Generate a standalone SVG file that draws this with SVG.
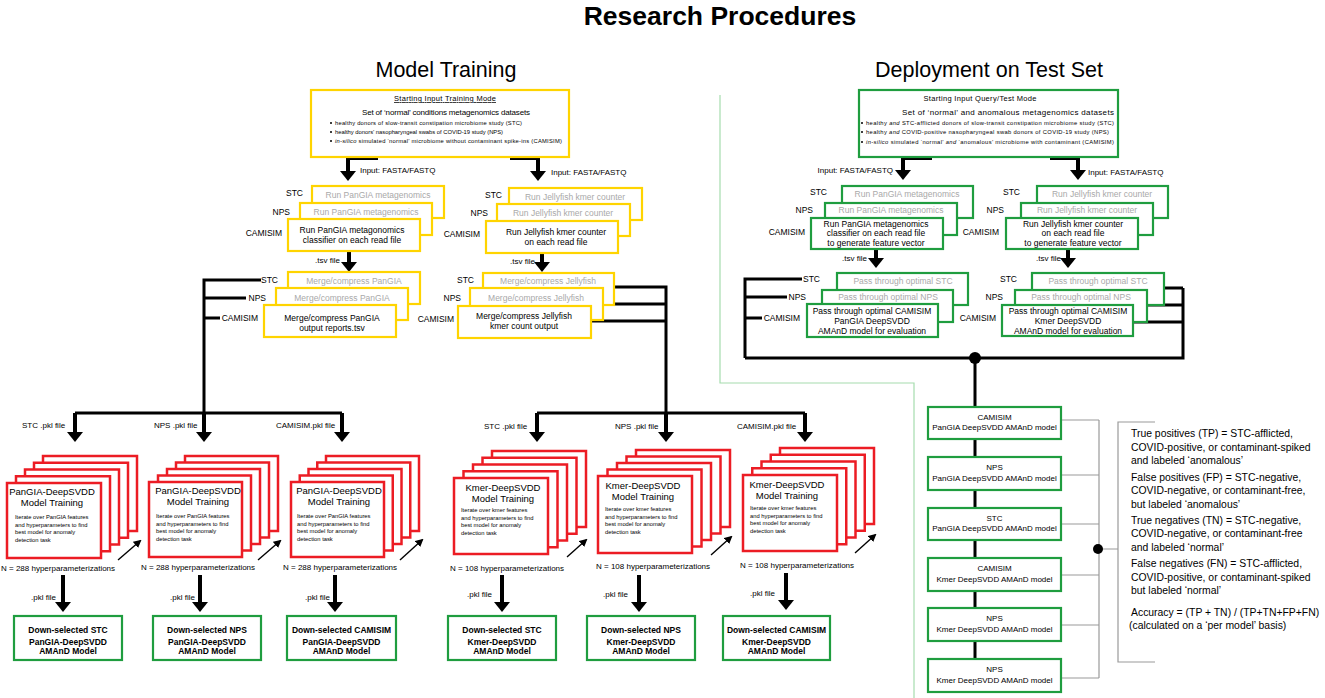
<svg xmlns="http://www.w3.org/2000/svg" width="1325" height="698" viewBox="0 0 1325 698">
<style>
text{font-family:"Liberation Sans",Arial,sans-serif;fill:#000}
.f85{font-size:8.5px}
.f8{font-size:8px}
.f6{font-size:5.8px}
.f95{font-size:9.5px}
.gt{fill:#a9a9a9}
.m{text-anchor:middle}
.e{text-anchor:end}
.b{font-weight:bold}
.by{fill:#fff;stroke:#FFD400;stroke-width:2.2}
.bg{fill:#fff;stroke:#1F9D3F;stroke-width:2.2}
.br{fill:#fff;stroke:#EC1C24;stroke-width:2.5}
.c{fill:none;stroke:#000;stroke-width:3;stroke-linejoin:miter}
.ca{fill:none;stroke:#000;stroke-width:4;stroke-linejoin:miter;marker-end:url(#ah)}
.th{fill:none;stroke:#000;stroke-width:1.4;marker-end:url(#sa)}
.gl{fill:none;stroke:#9a9a9a;stroke-width:1.2}
.rt{font-size:10.4px;fill:#222}
</style>
<defs>
<marker id="ah" markerUnits="userSpaceOnUse" markerWidth="10" markerHeight="16" viewBox="0 0 10 16" refX="6" refY="8" orient="auto"><path d="M0,0 L10,8 L0,16 z" fill="#000"/></marker>
<marker id="sa" markerUnits="userSpaceOnUse" markerWidth="8" markerHeight="8" viewBox="0 0 8 8" refX="6" refY="4" orient="auto"><path d="M0,0 L8,4 L0,8 z" fill="#000"/></marker>
</defs>
<rect width="1325" height="698" fill="#fff"/>

<g id="titles">
<text x="720" y="25" class="m b" font-size="26.5">Research Procedures</text>
<text x="446" y="77" class="m" font-size="21.5">Model Training</text>
<text x="989" y="77" class="m" font-size="21.5">Deployment on Test Set</text>
</g>

<path id="divider" d="M720,95 V383 H914 V698" fill="none" stroke="#a6dcae" stroke-width="1.2"/>

<g id="connectors">
<path class="ca" d="M378,158 H348 V177"/>
<path class="ca" d="M510,158 H538 V177"/>
<path class="ca" d="M932,158 H903 V176"/>
<path class="ca" d="M1050,158 H1078 V176"/>
<path class="ca" d="M349,251 V268"/>
<path class="ca" d="M542,253 V268"/>
<path class="ca" d="M876,249 V264"/>
<path class="ca" d="M1068,249 V264"/>
<path class="c" d="M261,280 H204 V413 M246,298 H204 M220,318 H204 M75,413 H342"/>
<path class="ca" d="M75,413 V438"/>
<path class="ca" d="M204,413 V438"/>
<path class="ca" d="M342,413 V438"/>
<path class="c" d="M614,287 H666 V413 M603,304 H666 M591,321 H666 M537,413 H805"/>
<path class="ca" d="M537,413 V438"/>
<path class="ca" d="M666,413 V438"/>
<path class="ca" d="M805,413 V438"/>
<path class="ca" d="M63,575 V608"/>
<path class="ca" d="M200,575 V608"/>
<path class="ca" d="M335,575 V608"/>
<path class="ca" d="M502,575 V608"/>
<path class="ca" d="M639,575 V608"/>
<path class="ca" d="M786,573 V606"/>
<path class="th" d="M118,560 L140,541"/>
<path class="th" d="M258,560 L280,541"/>
<path class="th" d="M400,560 L422,540"/>
<path class="th" d="M567,557 L586,540"/>
<path class="th" d="M711,555 L731,537"/>
<path class="th" d="M855,553 L875,535"/>
<path class="c" d="M802,279 H745 V358 M787,297 H745 M762,318 H745 M745,358 H1183 V288 M1164,288 H1183 M1147,305 H1183 M1133,322 H1183"/>
<path class="c" d="M975,358 V660"/>
<circle cx="975" cy="358" r="6" fill="#000"/>
<path class="gl" d="M1061,420 H1099 M1061,475 H1099 M1061,524 H1099 M1061,575 H1099 M1061,625 H1099 M1061,678 H1099 M1099,420 V678 M1098,549 H1118 M1155,422 H1118 V662 H1155"/>
<circle cx="1098" cy="549" r="5" fill="#000"/>
</g>

<g id="connector-labels" class="f8">
<text x="360" y="173">Input: FASTA/FASTQ</text>
<text x="551" y="175">Input: FASTA/FASTQ</text>
<text x="893" y="173" class="e">Input: FASTA/FASTQ</text>
<text x="1088" y="175">Input: FASTA/FASTQ</text>
<text x="340" y="263" class="e">.tsv file</text>
<text x="535" y="264" class="e">.tsv file</text>
<text x="867" y="261" class="e">.tsv file</text>
<text x="1061" y="261" class="e">.tsv file</text>
<text x="22" y="428">STC .pkl file</text>
<text x="154" y="428">NPS .pkl file</text>
<text x="276" y="428">CAMISIM.pkl file</text>
<text x="484" y="429">STC .pkl file</text>
<text x="615" y="429">NPS .pkl file</text>
<text x="737" y="429">CAMISIM.pkl file</text>
<text x="1" y="571">N = 288 hyperparameterizations</text>
<text x="141" y="570">N = 288 hyperparameterizations</text>
<text x="283" y="570">N = 288 hyperparameterizations</text>
<text x="450" y="571">N = 108 hyperparameterizations</text>
<text x="596" y="569">N = 108 hyperparameterizations</text>
<text x="740" y="568">N = 108 hyperparameterizations</text>
<text x="31" y="600">.pkl file</text>
<text x="170" y="600">.pkl file</text>
<text x="305" y="600">.pkl file</text>
<text x="467" y="597">.pkl file</text>
<text x="603" y="597">.pkl file</text>
<text x="750" y="596">.pkl file</text>
</g>

<g id="stream-labels" class="f85 e">
<text x="303" y="196">STC</text><text x="290" y="215">NPS</text><text x="282" y="236">CAMISIM</text>
<text x="278" y="283">STC</text><text x="266" y="301">NPS</text><text x="258" y="321">CAMISIM</text>
<text x="502" y="198">STC</text><text x="488" y="216">NPS</text><text x="480" y="237">CAMISIM</text>
<text x="474" y="283">STC</text><text x="461" y="301">NPS</text><text x="454" y="322">CAMISIM</text>
<text x="827" y="195">STC</text><text x="813" y="213">NPS</text><text x="805" y="235">CAMISIM</text>
<text x="820" y="282">STC</text><text x="806" y="300">NPS</text><text x="800" y="321">CAMISIM</text>
<text x="1020" y="195">STC</text><text x="1004" y="213">NPS</text><text x="999" y="235">CAMISIM</text>
<text x="1017" y="282">STC</text><text x="1003" y="300">NPS</text><text x="996" y="321">CAMISIM</text>
</g>

<g id="train-input">
<rect class="by" x="311" y="90" width="258" height="67"/>
<text x="445" y="101" class="m" font-size="7.5" text-decoration="underline" textLength="102">Starting Input Training Mode</text>
<text x="446" y="115" class="m f8" textLength="168">Set of ‘normal’ conditions metagenomics datasets</text>
<circle cx="331" cy="123" r="1"/><circle cx="331" cy="132" r="1"/><circle cx="331" cy="141" r="1"/>
<text x="335" y="125" class="f6" textLength="187">healthy donors of slow-transit constipation microbiome study (STC)</text>
<text x="335" y="134" class="f6" textLength="168">healthy donors’ nasopharyngeal swabs of COVID-19 study (NPS)</text>
<text x="335" y="143" class="f6" textLength="227"><tspan font-style="italic">in-silico</tspan> simulated ‘normal’ microbiome without contaminant spike-ins (CAMISIM)</text>
</g>

<g id="test-input">
<rect class="bg" x="859" y="90" width="259" height="67"/>
<text x="980" y="101" class="m" font-size="7.5" textLength="113">Starting Input Query/Test Mode</text>
<text x="1008" y="115" class="m f8" textLength="212">Set of ‘normal’ and anomalous metagenomics datasets</text>
<circle cx="862" cy="123" r="1"/><circle cx="862" cy="132" r="1"/><circle cx="862" cy="142" r="1"/>
<text x="866" y="125" class="f6" font-size="5.4" textLength="248">healthy <tspan font-style="italic">and</tspan> STC-afflicted donors of slow-transit constipation microbiome study (STC)</text>
<text x="866" y="134" class="f6" font-size="5.4" textLength="243">healthy <tspan font-style="italic">and</tspan> COVID-positive nasopharyngeal swab donors of COVID-19 study (NPS)</text>
<text x="866" y="144" class="f6" font-size="5.4" textLength="248"><tspan font-style="italic">in-silico</tspan> simulated ‘normal’ <tspan font-style="italic">and</tspan> ‘anomalous’ microbiome with contaminant (CAMISIM)</text>
</g>

<g id="train-pangia-run" class="f85">
<rect class="by" x="312" y="186" width="132" height="32"/>
<text x="378" y="198" class="m gt">Run PanGIA metagenomics</text>
<rect class="by" x="300" y="203" width="132" height="32"/>
<text x="366" y="215" class="m gt">Run PanGIA metagenomics</text>
<rect class="by" x="288" y="219" width="132" height="32"/>
<text x="352" y="233" class="m">Run PanGIA metagonomics</text>
<text x="352" y="243" class="m">classifier on each read file</text>
</g>

<g id="train-jelly-run" class="f85">
<rect class="by" x="509" y="188" width="133" height="32"/>
<text x="575" y="200" class="m gt">Run Jellyfish kmer counter</text>
<rect class="by" x="497" y="204" width="133" height="32"/>
<text x="563" y="216" class="m gt">Run Jellyfish kmer counter</text>
<rect class="by" x="486" y="221" width="132" height="32"/>
<text x="556" y="235" class="m">Run Jellyfish kmer counter</text>
<text x="556" y="245" class="m">on each read file</text>
</g>

<g id="train-pangia-merge" class="f85">
<rect class="by" x="288" y="272" width="132" height="32"/>
<text x="354" y="284" class="m gt">Merge/compress PanGIA</text>
<rect class="by" x="276" y="288" width="132" height="32"/>
<text x="342" y="301" class="m gt">Merge/compress PanGIA</text>
<rect class="by" x="264" y="305" width="132" height="32"/>
<text x="332" y="321" class="m">Merge/compress PanGIA</text>
<text x="332" y="331" class="m">output reports.tsv</text>
</g>

<g id="train-jelly-merge" class="f85">
<rect class="by" x="483" y="273" width="131" height="32"/>
<text x="548" y="284" class="m gt">Merge/compress Jellyfish</text>
<rect class="by" x="470" y="288" width="133" height="32"/>
<text x="536" y="301" class="m gt">Merge/compress Jellyfish</text>
<rect class="by" x="458" y="306" width="133" height="32"/>
<text x="524" y="319" class="m">Merge/compress Jellyfish</text>
<text x="524" y="329" class="m">kmer count output</text>
</g>

<g id="test-pangia-run" class="f85">
<rect class="bg" x="842" y="186" width="131" height="32"/>
<text x="907" y="197" class="m gt">Run PanGIA metagenomics</text>
<rect class="bg" x="825" y="203" width="132" height="32"/>
<text x="891" y="213" class="m gt">Run PanGIA metagenomics</text>
<rect class="bg" x="811" y="218" width="132" height="31"/>
<text x="876" y="227" class="m">Run PanGIA metagenomics</text>
<text x="876" y="236" class="m">classifier on each read file</text>
<text x="876" y="246" class="m">to generate feature vector</text>
</g>

<g id="test-jelly-run" class="f85">
<rect class="bg" x="1037" y="186" width="131" height="32"/>
<text x="1102" y="197" class="m gt">Run Jellyfish kmer counter</text>
<rect class="bg" x="1021" y="203" width="132" height="32"/>
<text x="1087" y="213" class="m gt">Run Jellyfish kmer counter</text>
<rect class="bg" x="1006" y="218" width="132" height="31"/>
<text x="1073" y="227" class="m">Run Jellyfish kmer counter</text>
<text x="1073" y="236" class="m">on each read file</text>
<text x="1073" y="246" class="m">to generate feature vector</text>
</g>

<g id="test-pangia-pass" class="f85">
<rect class="bg" x="837" y="273" width="131" height="32"/>
<text x="903" y="284" class="m gt">Pass through optimal STC</text>
<rect class="bg" x="822" y="290" width="131" height="32"/>
<text x="888" y="300" class="m gt">Pass through optimal NPS</text>
<rect class="bg" x="807" y="304" width="131" height="33"/>
<text x="872" y="314" class="m">Pass through optimal CAMISIM</text>
<text x="872" y="324" class="m">PanGIA DeepSVDD</text>
<text x="872" y="334" class="m">AMAnD model for evaluation</text>
</g>

<g id="test-jelly-pass" class="f85">
<rect class="bg" x="1032" y="273" width="132" height="32"/>
<text x="1098" y="284" class="m gt">Pass through optimal STC</text>
<rect class="bg" x="1015" y="290" width="132" height="32"/>
<text x="1081" y="300" class="m gt">Pass through optimal NPS</text>
<rect class="bg" x="1002" y="305" width="131" height="31"/>
<text x="1068" y="314" class="m">Pass through optimal CAMISIM</text>
<text x="1068" y="324" class="m">Kmer DeepSVDD</text>
<text x="1068" y="334" class="m">AMAnD model for evaluation</text>
</g>

<g id="train-pangia-stc">
<rect class="br" x="43" y="456" width="94" height="75"/>
<rect class="br" x="34" y="462.75" width="94" height="75"/>
<rect class="br" x="25" y="469.5" width="94" height="75"/>
<rect class="br" x="16" y="476.25" width="94" height="75"/>
<rect class="br" x="7" y="483" width="94" height="75"/>
<text x="52" y="495" class="m f95">PanGIA-DeepSVDD</text>
<text x="52" y="505.5" class="m f95">Model Training</text>
<text x="15" y="519" class="f6">Iterate over PanGIA features</text>
<text x="15" y="526.5" class="f6">and hyperparameters to find</text>
<text x="15" y="534" class="f6">best model for anomaly</text>
<text x="15" y="541.5" class="f6">detection task</text>
</g>

<g id="train-pangia-nps">
<rect class="br" x="185" y="456" width="93" height="75"/>
<rect class="br" x="176" y="462.5" width="93" height="75"/>
<rect class="br" x="167" y="469" width="93" height="75"/>
<rect class="br" x="158" y="475.5" width="93" height="75"/>
<rect class="br" x="149" y="482" width="93" height="75"/>
<text x="198" y="494" class="m f95">PanGIA-DeepSVDD</text>
<text x="198" y="504.5" class="m f95">Model Training</text>
<text x="156" y="518" class="f6">Iterate over PanGIA features</text>
<text x="156" y="525.5" class="f6">and hyperparameters to find</text>
<text x="156" y="533" class="f6">best model for anomaly</text>
<text x="156" y="540.5" class="f6">detection task</text>
</g>

<g id="train-pangia-camisim">
<rect class="br" x="326" y="456" width="93" height="75"/>
<rect class="br" x="317.25" y="462.5" width="93" height="75"/>
<rect class="br" x="308.5" y="469" width="93" height="75"/>
<rect class="br" x="299.75" y="475.5" width="93" height="75"/>
<rect class="br" x="291" y="482" width="93" height="75"/>
<text x="339" y="494" class="m f95">PanGIA-DeepSVDD</text>
<text x="339" y="504.5" class="m f95">Model Training</text>
<text x="297" y="518" class="f6">Iterate over PanGIA features</text>
<text x="297" y="525.5" class="f6">and hyperparameters to find</text>
<text x="297" y="533" class="f6">best model for anomaly</text>
<text x="297" y="540.5" class="f6">detection task</text>
</g>

<g id="train-kmer-stc">
<rect class="br" x="492" y="451" width="94" height="76"/>
<rect class="br" x="482.5" y="457.75" width="94" height="76"/>
<rect class="br" x="473" y="464.5" width="94" height="76"/>
<rect class="br" x="463.5" y="471.25" width="94" height="76"/>
<rect class="br" x="454" y="478" width="94" height="76"/>
<text x="503" y="491" class="m f95">Kmer-DeepSVDD</text>
<text x="503" y="501.5" class="m f95">Model Training</text>
<text x="461" y="512" class="f6">Iterate over kmer features</text>
<text x="461" y="519.5" class="f6">and hyperparameters to find</text>
<text x="461" y="527" class="f6">best model for anomaly</text>
<text x="461" y="534.5" class="f6">detection task</text>
</g>

<g id="train-kmer-nps">
<rect class="br" x="636" y="450" width="94" height="77"/>
<rect class="br" x="626.5" y="456.5" width="94" height="77"/>
<rect class="br" x="617" y="463" width="94" height="77"/>
<rect class="br" x="607.5" y="469.5" width="94" height="77"/>
<rect class="br" x="598" y="476" width="94" height="77"/>
<text x="643" y="489" class="m f95">Kmer-DeepSVDD</text>
<text x="643" y="499.5" class="m f95">Model Training</text>
<text x="605" y="511" class="f6">Iterate over kmer features</text>
<text x="605" y="518.5" class="f6">and hyperparameters to find</text>
<text x="605" y="526" class="f6">best model for anomaly</text>
<text x="605" y="533.5" class="f6">detection task</text>
</g>

<g id="train-kmer-camisim">
<rect class="br" x="780" y="448" width="94" height="76"/>
<rect class="br" x="770.75" y="454.75" width="94" height="76"/>
<rect class="br" x="761.5" y="461.5" width="94" height="76"/>
<rect class="br" x="752.25" y="468.25" width="94" height="76"/>
<rect class="br" x="743" y="475" width="94" height="76"/>
<text x="787" y="488" class="m f95">Kmer-DeepSVDD</text>
<text x="787" y="498.5" class="m f95">Model Training</text>
<text x="750" y="510" class="f6">Iterate over kmer features</text>
<text x="750" y="517.5" class="f6">and hyperparameters to find</text>
<text x="750" y="525" class="f6">best model for anomaly</text>
<text x="750" y="532.5" class="f6">detection task</text>
</g>

<g id="selected-models" class="f85 b">
<g id="sel-pangia-stc"><rect class="bg" x="14" y="616" width="108" height="44"/>
<text x="68" y="633" class="m">Down-selected STC</text><text x="68" y="645" class="m">PanGIA-DeepSVDD</text><text x="68" y="654" class="m">AMAnD Model</text></g>
<g id="sel-pangia-nps"><rect class="bg" x="153" y="616" width="108" height="44"/>
<text x="207" y="633" class="m">Down-selected NPS</text><text x="207" y="645" class="m">PanGIA-DeepSVDD</text><text x="207" y="654" class="m">AMAnD Model</text></g>
<g id="sel-pangia-camisim"><rect class="bg" x="287" y="616" width="109" height="44"/>
<text x="341.5" y="633" class="m">Down-selected CAMISIM</text><text x="341.5" y="645" class="m">PanGIA-DeepSVDD</text><text x="341.5" y="654" class="m">AMAnD Model</text></g>
<g id="sel-kmer-stc"><rect class="bg" x="448" y="616" width="108" height="44"/>
<text x="502" y="633" class="m">Down-selected STC</text><text x="502" y="645" class="m">Kmer-DeepSVDD</text><text x="502" y="654" class="m">AMAnD Model</text></g>
<g id="sel-kmer-nps"><rect class="bg" x="587" y="616" width="108" height="44"/>
<text x="641" y="633" class="m">Down-selected NPS</text><text x="641" y="645" class="m">Kmer-DeepSVDD</text><text x="641" y="654" class="m">AMAnD Model</text></g>
<g id="sel-kmer-camisim"><rect class="bg" x="723" y="616" width="107" height="44"/>
<text x="776.5" y="633" class="m">Down-selected CAMISIM</text><text x="776.5" y="645" class="m">Kmer-DeepSVDD</text><text x="776.5" y="654" class="m">AMAnD Model</text></g>
</g>

<g id="eval-models" class="f8">
<g id="eval-1"><rect class="bg" x="928" y="407" width="133" height="32"/><text x="994.5" y="420" class="m">CAMISIM</text><text x="994.5" y="430" class="m">PanGIA DeepSVDD AMAnD model</text></g>
<g id="eval-2"><rect class="bg" x="928" y="457" width="133" height="33"/><text x="994.5" y="470" class="m">NPS</text><text x="994.5" y="481" class="m">PanGIA DeepSVDD AMAnD model</text></g>
<g id="eval-3"><rect class="bg" x="928" y="508" width="133" height="32"/><text x="994.5" y="521" class="m">STC</text><text x="994.5" y="531" class="m">PanGIA DeepSVDD AMAnD model</text></g>
<g id="eval-4"><rect class="bg" x="928" y="558" width="133" height="33"/><text x="994.5" y="571" class="m">CAMISIM</text><text x="994.5" y="582" class="m">Kmer DeepSVDD AMAnD model</text></g>
<g id="eval-5"><rect class="bg" x="928" y="608" width="133" height="33"/><text x="994.5" y="621" class="m">NPS</text><text x="994.5" y="632" class="m">Kmer DeepSVDD AMAnD model</text></g>
<g id="eval-6"><rect class="bg" x="928" y="659" width="133" height="33"/><text x="994.5" y="672" class="m">NPS</text><text x="994.5" y="683" class="m">Kmer DeepSVDD AMAnD model</text></g>
</g>

<g id="metrics" class="rt">
<text x="1131" y="436.5">True positives (TP) = STC-afflicted,</text>
<text x="1131" y="450.5">COVID-positive, or contaminant-spiked</text>
<text x="1131" y="463.5">and labeled ‘anomalous’</text>
<text x="1131" y="480.5">False positives (FP) = STC-negative,</text>
<text x="1131" y="493.5">COVID-negative, or contaminant-free,</text>
<text x="1131" y="507.5">but labeled ‘anomalous’</text>
<text x="1131" y="523.5">True negatives (TN) = STC-negative,</text>
<text x="1131" y="536.5">COVID-negative, or contaminant-free</text>
<text x="1131" y="550.5">and labeled ‘normal’</text>
<text x="1131" y="566.5">False negatives (FN) = STC-afflicted,</text>
<text x="1131" y="580.5">COVID-positive, or contaminant-spiked</text>
<text x="1131" y="593.5">but labeled ‘normal’</text>
<text x="1131" y="615.5">Accuracy = (TP + TN) / (TP+TN+FP+FN)</text>
<text x="1129" y="628.5">(calculated on a ‘per model’ basis)</text>
</g>
</svg>
